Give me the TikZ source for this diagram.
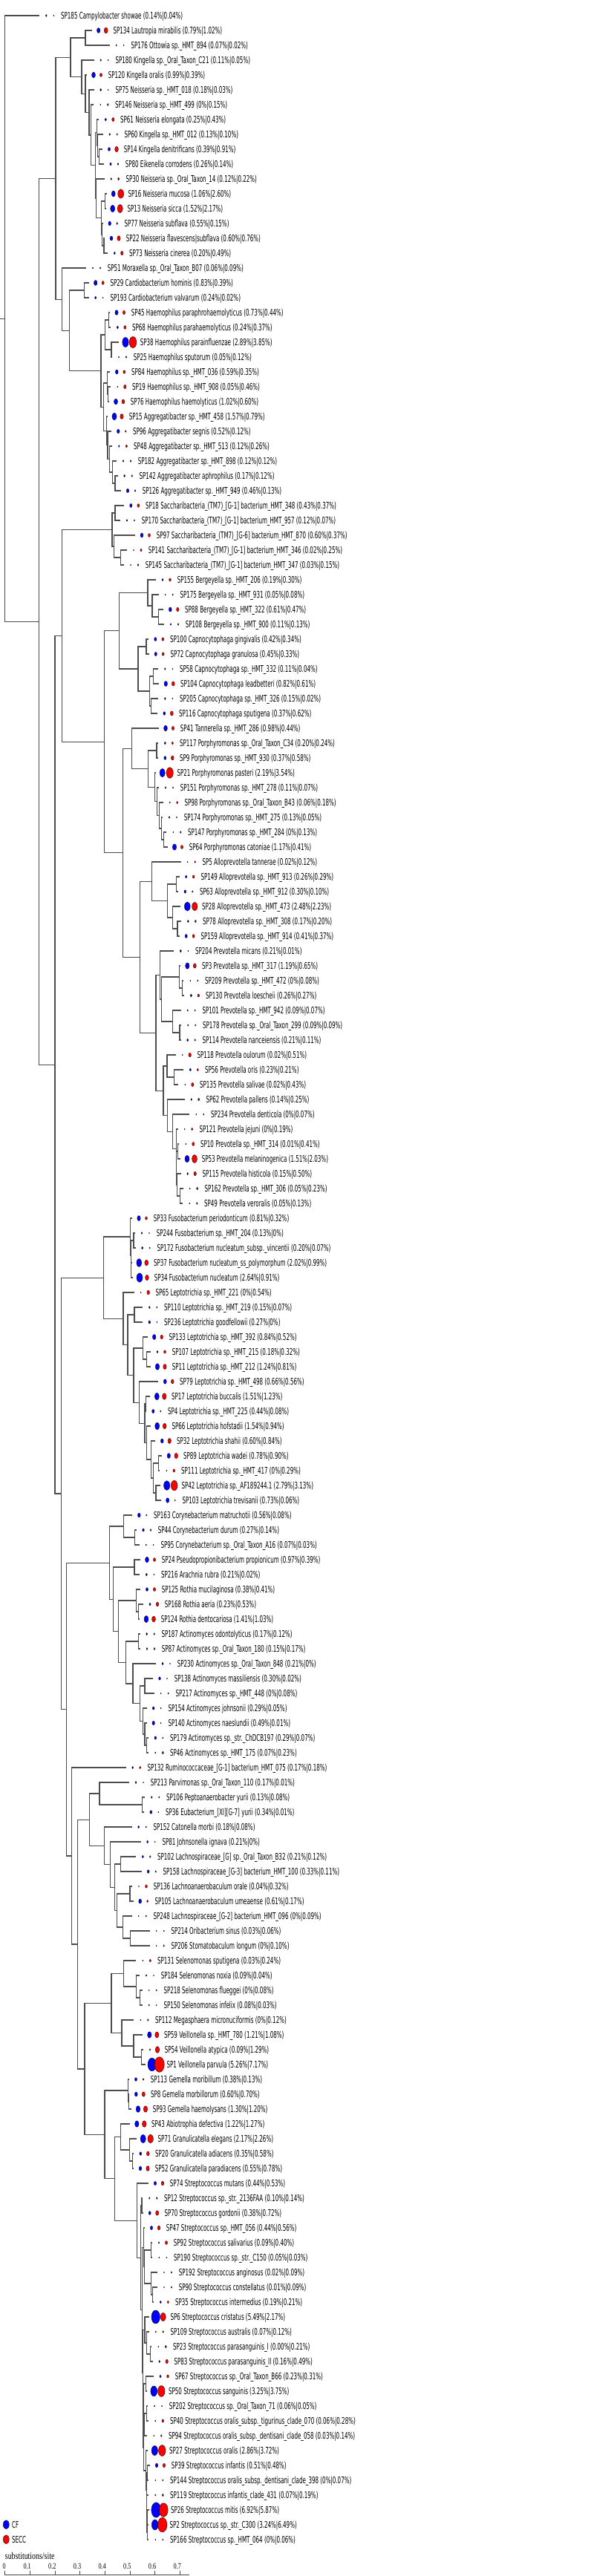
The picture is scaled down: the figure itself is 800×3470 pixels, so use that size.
\documentclass[tikz,border=0pt]{standalone}
\usepackage{fontspec}
\newfontfamily\lblfont{DejaVu Sans}[FakeStretch=0.58]
\newfontfamily\axisfont{Liberation Serif}[FakeStretch=0.75]
\definecolor{cfblue}{RGB}{0,0,255}
\definecolor{seccred}{RGB}{255,0,0}
\newcommand\setY[2]{\expandafter\xdef\csname ny@#1\endcsname{#2}}
\newcommand\getY[1]{\csname ny@#1\endcsname}
\tikzset{
  br/.style={draw=black!70, line width=1.2pt, line cap=rect},
  dotb/.style={fill=cfblue, draw=black, line width=0.35pt},
  dotr/.style={fill=seccred, draw=black, line width=0.35pt},
  lbl/.style={font=\lblfont\fontsize{12.3}{14}\selectfont, inner sep=0pt, anchor=base west},
  axlbl/.style={font=\axisfont\fontsize{11}{13}\selectfont, inner sep=0pt, anchor=base},
}
\newcommand\leaf[6]{%
  \pgfmathsetmacro\ly{21+20*#2}%
  \setY{#1}{\ly}%
  \coordinate (#1) at ({#3-9.5},-\ly);%
  \pgfmathsetmacro\rb{3.85*sqrt(max(#5,0.04))}%
  \pgfmathsetmacro\rr{3.85*sqrt(max(#6,0.04))}%
  \pgfmathsetmacro\rbx{0.64*\rb}%
  \pgfmathsetmacro\rrx{0.64*\rr}%
  \draw[dotb] (#3,-\ly) ellipse [x radius=\rbx, y radius=\rb];%
  \draw[dotr] ({#3+10},-\ly) ellipse [x radius=\rrx, y radius=\rr];%
  \node[lbl] (#1t) at ({#3+19.6},{-\ly-4.6}) {#4 (#5\%|#6\%)};%
}
\newcommand\inode[5]{%
  \edef\tya{\getY{#3}}\edef\tyb{\getY{#4}}%
  \pgfmathsetmacro\ny{(\tya+\tyb)/2}%
  \setY{#1}{\ny}%
  \coordinate (#1) at (#2,-\ny);%
  \draw[br] (#1 |- #3) -- (#1 |- #4);%
  \foreach \ch in {#5}{\draw[br] (#1 |- \ch) -- (\ch);}%
}
\begin{document}
\begin{tikzpicture}[x=1pt,y=1pt]
\fill[white] (0,0) rectangle (800,-3470);
\useasboundingbox (0,0) rectangle (800,-3470);
% ---------------- leaves ----------------
\leaf{s185}{0}{62.3}{SP185 Campylobacter showae}{0.14}{0.04}
\leaf{s134}{1}{132.7}{SP134 Lautropia mirabilis}{0.79}{1.02}
\leaf{s176}{2}{156.7}{SP176 Ottowia sp.\_HMT\_894}{0.07}{0.02}
\leaf{s180}{3}{135.7}{SP180 Kingella sp.\_Oral\_Taxon\_C21}{0.11}{0.05}
\leaf{s120}{4}{126}{SP120 Kingella oralis}{0.99}{0.39}
\leaf{s75}{5}{135.7}{SP75 Neisseria sp.\_HMT\_018}{0.18}{0.03}
\leaf{s146}{6}{135.3}{SP146 Neisseria sp.\_HMT\_499}{0}{0.15}
\leaf{s61}{7}{142.3}{SP61 Neisseria elongata}{0.25}{0.43}
\leaf{s60}{8}{147.7}{SP60 Kingella sp.\_HMT\_012}{0.13}{0.10}
\leaf{s14}{9}{147}{SP14 Kingella denitrificans}{0.39}{0.91}
\leaf{s80}{10}{149}{SP80 Eikenella corrodens}{0.26}{0.14}
\leaf{s30}{11}{149.7}{SP30 Neisseria sp.\_Oral\_Taxon\_14}{0.12}{0.22}
\leaf{s16}{12}{152.7}{SP16 Neisseria mucosa}{1.06}{2.60}
\leaf{s13}{13}{151.7}{SP13 Neisseria sicca}{1.52}{2.17}
\leaf{s77}{14}{147.7}{SP77 Neisseria subflava}{0.55}{0.15}
\leaf{s22}{15}{150}{SP22 Neisseria flavescens|subflava}{0.60}{0.76}
\leaf{s73}{16}{154.3}{SP73 Neisseria cinerea}{0.20}{0.49}
\leaf{s51}{17}{125}{SP51 Moraxella sp.\_Oral\_Taxon\_B07}{0.06}{0.09}
\leaf{s29}{18}{128.7}{SP29 Cardiobacterium hominis}{0.83}{0.39}
\leaf{s193}{19}{128.7}{SP193 Cardiobacterium valvarum}{0.24}{0.02}
\leaf{s45}{20}{157}{SP45 Haemophilus paraphrohaemolyticus}{0.73}{0.44}
\leaf{s68}{21}{158.3}{SP68 Haemophilus parahaemolyticus}{0.24}{0.37}
\leaf{s38}{22}{169}{SP38 Haemophilus parainfluenzae}{2.89}{3.85}
\leaf{s25}{23}{160}{SP25 Haemophilus sputorum}{0.05}{0.12}
\leaf{s84}{24}{157.3}{SP84 Haemophilus sp.\_HMT\_036}{0.59}{0.35}
\leaf{s19}{25}{158.3}{SP19 Haemophilus sp.\_HMT\_908}{0.05}{0.46}
\leaf{s76}{26}{156}{SP76 Haemophilus haemolyticus}{1.02}{0.60}
\leaf{s15}{27}{154}{SP15 Aggregatibacter sp.\_HMT\_458}{1.57}{0.79}
\leaf{s96}{28}{159.3}{SP96 Aggregatibacter segnis}{0.52}{0.12}
\leaf{s48}{29}{160.3}{SP48 Aggregatibacter sp.\_HMT\_513}{0.12}{0.26}
\leaf{s182}{30}{166}{SP182 Aggregatibacter sp.\_HMT\_898}{0.12}{0.12}
\leaf{s142}{31}{167.7}{SP142 Aggregatibacter aphrophilus}{0.17}{0.12}
\leaf{s126}{32}{172}{SP126 Aggregatibacter sp.\_HMT\_949}{0.46}{0.13}
\leaf{s18}{33}{176.3}{SP18 Saccharibacteria\_(TM7)\_[G-1] bacterium\_HMT\_348}{0.43}{0.37}
\leaf{s170}{34}{171}{SP170 Saccharibacteria\_(TM7)\_[G-1] bacterium\_HMT\_957}{0.12}{0.07}
\leaf{s97}{35}{191}{SP97 Saccharibacteria\_(TM7)\_[G-6] bacterium\_HMT\_870}{0.60}{0.37}
\leaf{s141}{36}{180}{SP141 Saccharibacteria\_(TM7)\_[G-1] bacterium\_HMT\_346}{0.02}{0.25}
\leaf{s145}{37}{176}{SP145 Saccharibacteria\_(TM7)\_[G-1] bacterium\_HMT\_347}{0.03}{0.15}
\leaf{s155}{38}{219}{SP155 Bergeyella sp.\_HMT\_206}{0.19}{0.30}
\leaf{s175}{39}{222.7}{SP175 Bergeyella sp.\_HMT\_931}{0.05}{0.08}
\leaf{s88}{40}{229.3}{SP88 Bergeyella sp.\_HMT\_322}{0.61}{0.47}
\leaf{s108}{41}{230}{SP108 Bergeyella sp.\_HMT\_900}{0.11}{0.13}
\leaf{s100}{42}{209.3}{SP100 Capnocytophaga gingivalis}{0.42}{0.34}
\leaf{s72}{43}{209.7}{SP72 Capnocytophaga granulosa}{0.45}{0.33}
\leaf{s58}{44}{222.3}{SP58 Capnocytophaga sp.\_HMT\_332}{0.11}{0.04}
\leaf{s104}{45}{223.3}{SP104 Capnocytophaga leadbetteri}{0.82}{0.61}
\leaf{s205}{46}{222.3}{SP205 Capnocytophaga sp.\_HMT\_326}{0.15}{0.02}
\leaf{s116}{47}{221.3}{SP116 Capnocytophaga sputigena}{0.37}{0.62}
\leaf{s41}{48}{223}{SP41 Tannerella sp.\_HMT\_286}{0.98}{0.44}
\leaf{s117}{49}{222.3}{SP117 Porphyromonas sp.\_Oral\_Taxon\_C34}{0.20}{0.24}
\leaf{s9}{50}{222.3}{SP9 Porphyromonas sp.\_HMT\_930}{0.37}{0.58}
\leaf{s21}{51}{218.7}{SP21 Porphyromonas pasteri}{2.19}{3.54}
\leaf{s151}{52}{223}{SP151 Porphyromonas sp.\_HMT\_278}{0.11}{0.07}
\leaf{s98}{53}{228.7}{SP98 Porphyromonas sp.\_Oral\_Taxon\_B43}{0.06}{0.18}
\leaf{s174}{54}{228}{SP174 Porphyromonas sp.\_HMT\_275}{0.13}{0.05}
\leaf{s147}{55}{233.3}{SP147 Porphyromonas sp.\_HMT\_284}{0}{0.13}
\leaf{s64}{56}{235}{SP64 Porphyromonas catoniae}{1.17}{0.41}
\leaf{s5}{57}{252.7}{SP5 Alloprevotella tannerae}{0.02}{0.12}
\leaf{s149}{58}{250.7}{SP149 Alloprevotella sp.\_HMT\_913}{0.26}{0.29}
\leaf{s63}{59}{249.3}{SP63 Alloprevotella sp.\_HMT\_912}{0.30}{0.10}
\leaf{s28}{60}{252.3}{SP28 Alloprevotella sp.\_HMT\_473}{2.48}{2.23}
\leaf{s78}{61}{253.3}{SP78 Alloprevotella sp.\_HMT\_308}{0.17}{0.20}
\leaf{s159}{62}{250.7}{SP159 Alloprevotella sp.\_HMT\_914}{0.41}{0.37}
\leaf{s204}{63}{243.3}{SP204 Prevotella micans}{0.21}{0.01}
\leaf{s3}{64}{252.3}{SP3 Prevotella sp.\_HMT\_317}{1.19}{0.65}
\leaf{s209}{65}{256.3}{SP209 Prevotella sp.\_HMT\_472}{0}{0.08}
\leaf{s130}{66}{257.3}{SP130 Prevotella loescheii}{0.26}{0.27}
\leaf{s101}{67}{252.7}{SP101 Prevotella sp.\_HMT\_942}{0.09}{0.07}
\leaf{s178}{68}{253.3}{SP178 Prevotella sp.\_Oral\_Taxon\_299}{0.09}{0.09}
\leaf{s114}{69}{252.7}{SP114 Prevotella nanceiensis}{0.21}{0.11}
\leaf{s118}{70}{245.7}{SP118 Prevotella oulorum}{0.02}{0.51}
\leaf{s56}{71}{256.3}{SP56 Prevotella oris}{0.23}{0.21}
\leaf{s135}{72}{249.3}{SP135 Prevotella salivae}{0.02}{0.43}
\leaf{s62}{73}{257.7}{SP62 Prevotella pallens}{0.14}{0.25}
\leaf{s234}{74}{264.3}{SP234 Prevotella denticola}{0}{0.07}
\leaf{s121}{75}{248.7}{SP121 Prevotella jejuni}{0}{0.19}
\leaf{s10}{76}{250.3}{SP10 Prevotella sp.\_HMT\_314}{0.01}{0.41}
\leaf{s53}{77}{252}{SP53 Prevotella melaninogenica}{1.51}{2.03}
\leaf{s115}{78}{252.7}{SP115 Prevotella histicola}{0.15}{0.50}
\leaf{s162}{79}{255.7}{SP162 Prevotella sp.\_HMT\_306}{0.05}{0.23}
\leaf{s49}{80}{255.3}{SP49 Prevotella veroralis}{0.05}{0.13}
\leaf{s33}{81}{187}{SP33 Fusobacterium periodonticum}{0.81}{0.32}
\leaf{s244}{82}{191}{SP244 Fusobacterium sp.\_HMT\_204}{0.13}{0}
\leaf{s172}{83}{191.7}{SP172 Fusobacterium nucleatum\_subsp.\_vincentii}{0.20}{0.07}
\leaf{s37}{84}{187.3}{SP37 Fusobacterium nucleatum\_ss\_polymorphum}{2.02}{0.99}
\leaf{s34}{85}{188}{SP34 Fusobacterium nucleatum}{2.64}{0.91}
\leaf{s65}{86}{189.7}{SP65 Leptotrichia sp.\_HMT\_221}{0}{0.54}
\leaf{s110}{87}{201.3}{SP110 Leptotrichia sp.\_HMT\_219}{0.15}{0.07}
\leaf{s236}{88}{201.3}{SP236 Leptotrichia goodfellowii}{0.27}{0}
\leaf{s133}{89}{207.7}{SP133 Leptotrichia sp.\_HMT\_392}{0.84}{0.52}
\leaf{s107}{90}{212}{SP107 Leptotrichia sp.\_HMT\_215}{0.18}{0.32}
\leaf{s11}{91}{212}{SP11 Leptotrichia sp.\_HMT\_212}{1.24}{0.81}
\leaf{s79}{92}{222.3}{SP79 Leptotrichia sp.\_HMT\_498}{0.66}{0.56}
\leaf{s17}{93}{211.3}{SP17 Leptotrichia buccalis}{1.51}{1.23}
\leaf{s4}{94}{206.3}{SP4 Leptotrichia sp.\_HMT\_225}{0.44}{0.08}
\leaf{s66}{95}{211.7}{SP66 Leptotrichia hofstadii}{1.54}{0.94}
\leaf{s32}{96}{218.3}{SP32 Leptotrichia shahii}{0.60}{0.84}
\leaf{s89}{97}{227.3}{SP89 Leptotrichia wadei}{0.78}{0.90}
\leaf{s111}{98}{224.3}{SP111 Leptotrichia sp.\_HMT\_417}{0}{0.29}
\leaf{s42}{99}{224.7}{SP42 Leptotrichia sp.\_AF189244.1}{2.79}{3.13}
\leaf{s103}{100}{225.7}{SP103 Leptotrichia trevisanii}{0.73}{0.06}
\leaf{s163}{101}{187.3}{SP163 Corynebacterium matruchotii}{0.56}{0.08}
\leaf{s44}{102}{193}{SP44 Corynebacterium durum}{0.27}{0.14}
\leaf{s95}{103}{196.7}{SP95 Corynebacterium sp.\_Oral\_Taxon\_A16}{0.07}{0.03}
\leaf{s24}{104}{198}{SP24 Pseudopropionibacterium propionicum}{0.97}{0.39}
\leaf{s216}{105}{197.3}{SP216 Arachnia rubra}{0.21}{0.02}
\leaf{s125}{106}{198}{SP125 Rothia mucilaginosa}{0.38}{0.41}
\leaf{s168}{107}{202}{SP168 Rothia aeria}{0.23}{0.53}
\leaf{s124}{108}{197}{SP124 Rothia dentocariosa}{1.41}{1.03}
\leaf{s187}{109}{197.7}{SP187 Actinomyces odontolyticus}{0.17}{0.12}
\leaf{s87}{110}{198}{SP87 Actinomyces sp.\_Oral\_Taxon\_180}{0.15}{0.17}
\leaf{s230}{111}{219}{SP230 Actinomyces sp.\_Oral\_Taxon\_848}{0.21}{0}
\leaf{s138}{112}{215}{SP138 Actinomyces massiliensis}{0.30}{0.02}
\leaf{s217}{113}{216.7}{SP217 Actinomyces sp.\_HMT\_448}{0}{0.08}
\leaf{s154}{114}{206.7}{SP154 Actinomyces johnsonii}{0.29}{0.05}
\leaf{s140}{115}{206.7}{SP140 Actinomyces naeslundii}{0.49}{0.01}
\leaf{s179}{116}{209.3}{SP179 Actinomyces sp.\_str.\_ChDCB197}{0.29}{0.07}
\leaf{s46}{117}{209.3}{SP46 Actinomyces sp.\_HMT\_175}{0.07}{0.23}
\leaf{s132}{118}{178.7}{SP132 Ruminococcaceae\_[G-1] bacterium\_HMT\_075}{0.17}{0.18}
\leaf{s213}{119}{183}{SP213 Parvimonas sp.\_Oral\_Taxon\_110}{0.17}{0.01}
\leaf{s106}{120}{204.3}{SP106 Peptoanaerobacter yurii}{0.13}{0.08}
\leaf{s36}{121}{203.3}{SP36 Eubacterium\_[XI][G-7] yurii}{0.34}{0.01}
\leaf{s152}{122}{186.7}{SP152 Catonella morbi}{0.18}{0.08}
\leaf{s81}{123}{198.7}{SP81 Johnsonella ignava}{0.21}{0}
\leaf{s102}{124}{192.3}{SP102 Lachnospiraceae\_[G] sp.\_Oral\_Taxon\_B32}{0.21}{0.12}
\leaf{s158}{125}{199.7}{SP158 Lachnospiraceae\_[G-3] bacterium\_HMT\_100}{0.33}{0.11}
\leaf{s136}{126}{187}{SP136 Lachnoanaerobaculum orale}{0.04}{0.32}
\leaf{s105}{127}{188.7}{SP105 Lachnoanaerobaculum umeaense}{0.61}{0.17}
\leaf{s248}{128}{186.7}{SP248 Lachnospiraceae\_[G-2] bacterium\_HMT\_096}{0}{0.09}
\leaf{s214}{129}{210.7}{SP214 Oribacterium sinus}{0.03}{0.06}
\leaf{s206}{130}{210.7}{SP206 Stomatobaculum longum}{0}{0.10}
\leaf{s131}{131}{192.3}{SP131 Selenomonas sputigena}{0.03}{0.24}
\leaf{s184}{132}{197}{SP184 Selenomonas noxia}{0.09}{0.04}
\leaf{s218}{133}{200.7}{SP218 Selenomonas flueggei}{0}{0.08}
\leaf{s150}{134}{200.7}{SP150 Selenomonas infelix}{0.08}{0.03}
\leaf{s112}{135}{189.3}{SP112 Megasphaera micronuciformis}{0}{0.12}
\leaf{s59}{136}{201.3}{SP59 Veillonella sp.\_HMT\_780}{1.21}{1.08}
\leaf{s54}{137}{202}{SP54 Veillonella atypica}{0.09}{1.29}
\leaf{s1}{138}{204.7}{SP1 Veillonella parvula}{5.26}{7.17}
\leaf{s113}{139}{183}{SP113 Gemella moribillum}{0.38}{0.13}
\leaf{s8}{140}{183.3}{SP8 Gemella morbillorum}{0.60}{0.70}
\leaf{s93}{141}{186}{SP93 Gemella haemolysans}{1.30}{1.20}
\leaf{s43}{142}{184.3}{SP43 Abiotrophia defectiva}{1.22}{1.27}
\leaf{s71}{143}{192.7}{SP71 Granulicatella elegans}{2.17}{2.26}
\leaf{s20}{144}{189.3}{SP20 Granulicatella adiacens}{0.35}{0.58}
\leaf{s52}{145}{189}{SP52 Granulicatella paradiacens}{0.55}{0.78}
\leaf{s74}{146}{209}{SP74 Streptococcus mutans}{0.44}{0.53}
\leaf{s12}{147}{201.3}{SP12 Streptococcus sp.\_str.\_2136FAA}{0.10}{0.14}
\leaf{s70}{148}{201.7}{SP70 Streptococcus gordonii}{0.38}{0.72}
\leaf{s47}{149}{204}{SP47 Streptococcus sp.\_HMT\_056}{0.44}{0.56}
\leaf{s92}{150}{214}{SP92 Streptococcus salivarius}{0.09}{0.40}
\leaf{s190}{151}{214.3}{SP190 Streptococcus sp.\_str.\_C150}{0.05}{0.03}
\leaf{s192}{152}{221}{SP192 Streptococcus anginosus}{0.02}{0.09}
\leaf{s90}{153}{221}{SP90 Streptococcus constellatus}{0.01}{0.09}
\leaf{s35}{154}{216.3}{SP35 Streptococcus intermedius}{0.19}{0.21}
\leaf{s6}{155}{209.7}{SP6 Streptococcus cristatus}{5.49}{2.17}
\leaf{s109}{156}{209.7}{SP109 Streptococcus australis}{0.07}{0.12}
\leaf{s23}{157}{213.3}{SP23 Streptococcus parasanguinis\_I}{0.00}{0.21}
\leaf{s83}{158}{214.7}{SP83 Streptococcus parasanguinis\_II}{0.16}{0.49}
\leaf{s67}{159}{216}{SP67 Streptococcus sp.\_Oral\_Taxon\_B66}{0.23}{0.31}
\leaf{s50}{160}{207.3}{SP50 Streptococcus sanguinis}{3.25}{3.75}
\leaf{s202}{161}{208}{SP202 Streptococcus sp.\_Oral\_Taxon\_71}{0.06}{0.05}
\leaf{s40}{162}{209.3}{SP40 Streptococcus oralis\_subsp.\_tigurinus\_clade\_070}{0.06}{0.28}
\leaf{s94}{163}{207.3}{SP94 Streptococcus oralis\_subsp.\_dentisani\_clade\_058}{0.03}{0.14}
\leaf{s27}{164}{208.3}{SP27 Streptococcus oralis}{2.86}{3.72}
\leaf{s39}{165}{211}{SP39 Streptococcus infantis}{0.51}{0.48}
\leaf{s144}{166}{209.3}{SP144 Streptococcus oralis\_subsp.\_dentisani\_clade\_398}{0}{0.07}
\leaf{s119}{167}{209.3}{SP119 Streptococcus infantis\_clade\_431}{0.07}{0.19}
\leaf{s26}{168}{210.3}{SP26 Streptococcus mitis}{6.92}{5.87}
\leaf{s2}{169}{208.7}{SP2 Streptococcus sp.\_str.\_C300}{3.24}{6.49}
\leaf{s166}{170}{209.3}{SP166 Streptococcus sp.\_HMT\_064}{0}{0.06}
% ---------------- internal nodes ----------------
\inode{n12}{115}{s134}{s176}{s134,s176}
\inode{nG3}{133.3}{s14}{s80}{s14,s80}
\inode{nG2}{131.7}{s60}{nG3}{s60,nG3}
\inode{nG}{130.7}{s61}{nG2}{s61,nG2}
\inode{nJ}{141.7}{s16}{s13}{s16,s13}
\inode{nK}{140}{s22}{s73}{s22,s73}
\inode{nL}{137.7}{s77}{nK}{s77,nK}
\inode{nI}{136.7}{nJ}{nL}{nJ,nL}
\inode{nH}{129.3}{s30}{nI}{s30,nI}
\inode{nF}{128.3}{nG}{nH}{nG,nH}
\inode{nE}{122.3}{s146}{nF}{s146,nF}
\inode{nD}{120}{s75}{nE}{s75,nE}
\inode{nC}{115}{s120}{nD}{s120,nD}
\inode{nB}{110}{s180}{nC}{s180,nC}
\inode{nC1}{95}{n12}{nB}{n12,nB}
\inode{nCard}{113.3}{s29}{s193}{s29,s193}
\inode{nP1}{146.7}{s45}{s68}{s45,s68}
\inode{nP2}{150}{s38}{s25}{s38,s25}
\inode{nP}{141.7}{nP1}{nP2}{nP1,nP2}
\inode{nR2}{145.5}{s19}{s76}{s19,s76}
\inode{nR}{144.5}{s84}{nR2}{s84,nR2}
\inode{nS5}{155}{s142}{s126}{s142,s126}
\inode{nS4}{151.7}{s182}{nS5}{s182,nS5}
\inode{nS3}{147.7}{s48}{nS4}{s48,nS4}
\inode{nS2}{145}{s96}{nS3}{s96,nS3}
\inode{nS}{143.3}{s15}{nS2}{s15,nS2}
\inode{nQ}{139.3}{nR}{nS}{nR,nS}
\inode{nHaem}{136}{nP}{nQ}{nP,nQ}
\inode{nM}{93.3}{nCard}{nHaem}{nCard,nHaem}
\inode{nC2}{83.3}{s51}{nM}{s51,nM}
\inode{nB1}{75}{nC1}{nC2}{nC1,nC2}
\inode{nT7a}{155}{s18}{s170}{s18,s170}
\inode{nT7c}{162.3}{s141}{s145}{s141,s145}
\inode{nT7b}{153.3}{s97}{nT7c}{s97,nT7c}
\inode{nT7}{151}{nT7a}{nT7b}{nT7a,nT7b}
\inode{nBerg3}{213.3}{s88}{s108}{s88,s108}
\inode{nBerg2}{205}{s175}{nBerg3}{s175,nBerg3}
\inode{nBerg}{199}{s155}{nBerg2}{s155,nBerg2}
\inode{nCapA}{197}{s100}{s72}{s100,s72}
\inode{nCapB1}{206.7}{s58}{s104}{s58,s104}
\inode{nCapB2}{203.3}{s205}{s116}{s205,s116}
\inode{nCapB}{201.7}{nCapB1}{nCapB2}{nCapB1,nCapB2}
\inode{nCapno}{186}{nCapA}{nCapB}{nCapA,nCapB}
\inode{nFlavo}{160.7}{nBerg}{nCapno}{nBerg,nCapno}
\inode{nPor3}{211}{s117}{s9}{s117,s9}
\inode{nPor8}{220.7}{s147}{s64}{s147,s64}
\inode{nPor7}{217.3}{s174}{nPor8}{s174,nPor8}
\inode{nPor6}{214.3}{s98}{nPor7}{s98,nPor7}
\inode{nPor5}{211.5}{s151}{nPor6}{s151,nPor6}
\inode{nPor4}{208.3}{s21}{nPor5}{s21,nPor5}
\inode{nPor2}{199.3}{nPor3}{nPor4}{nPor3,nPor4}
\inode{nPorph}{177.7}{s41}{nPor2}{s41,nPor2}
\inode{nAllo3}{237.3}{s149}{s63}{s149,s63}
\inode{nAllo5}{239}{s78}{s159}{s78,s159}
\inode{nAllo4}{232.3}{s28}{nAllo5}{s28,nAllo5}
\inode{nAllo2}{225.7}{nAllo3}{nAllo4}{nAllo3,nAllo4}
\inode{nAllo}{204.3}{s5}{nAllo2}{s5,nAllo2}
\inode{nPC3b}{245.5}{s209}{s130}{s209,s130}
\inode{nPC3}{241.3}{s3}{nPC3b}{s3,nPC3b}
\inode{nPC5}{242}{s178}{s114}{s178,s114}
\inode{nPC4}{232.7}{s101}{nPC5}{s101,nPC5}
\inode{nPC2}{217.3}{nPC3}{nPC4}{nPC3,nPC4}
\inode{nPC}{215.7}{s204}{nPC2}{s204,nPC2}
\inode{nPD1}{234.3}{s56}{s135}{s56,s135}
\inode{nPD2}{225}{s118}{nPD1}{s118,nPD1}
\inode{nPH1}{242.7}{s162}{s49}{s162,s49}
\inode{nPH2}{238.3}{s115}{nPH1}{s115,nPH1}
\inode{nPH3}{239.3}{s10}{s53}{s10,s53}
\inode{nPH4}{237.7}{nPH3}{nPH2}{nPH3,nPH2}
\inode{nPG}{237.3}{s121}{nPH4}{s121,nPH4}
\inode{nPF}{232.7}{s234}{nPG}{s234,nPG}
\inode{nPE}{225.7}{s62}{nPF}{s62,nPF}
\inode{nPD}{220}{nPD2}{nPE}{nPD2,nPE}
\inode{nPB}{210}{nPC}{nPD}{nPC,nPD}
\inode{nPrev}{188.3}{nAllo}{nPB}{nAllo,nPB}
\inode{nBact}{165.7}{nPorph}{nPrev}{nPorph,nPrev}
\inode{nU}{140.7}{nFlavo}{nBact}{nFlavo,nBact}
\inode{nT1}{83.3}{nT7}{nU}{nT7,nU}
\inode{nFusA}{180}{s244}{s172}{s244,s172}
\inode{nFusB}{176.7}{s37}{s34}{s37,s34}
\inode{nFusC}{176.3}{nFusA}{nFusB}{nFusA,nFusB}
\inode{nFus1}{175.7}{s33}{nFusC}{s33,nFusC}
\inode{nLB}{181}{s110}{s236}{s110,s236}
\inode{nLD2}{197.7}{s107}{s11}{s107,s11}
\inode{nLD}{192.7}{s133}{nLD2}{s133,nLD2}
\inode{nLF1}{213.3}{s89}{s111}{s89,s111}
\inode{nLF2}{210}{s42}{s103}{s42,s103}
\inode{nLF3}{206.7}{nLF1}{nLF2}{nLF1,nLF2}
\inode{nLF4}{203.3}{s32}{nLF3}{s32,nLF3}
\inode{nLF5}{197.7}{s66}{nLF4}{s66,nLF4}
\inode{nLF7}{196.3}{s17}{s4}{s17,s4}
\inode{nLF6}{195}{nLF7}{nLF5}{nLF7,nLF5}
\inode{nLE}{187.7}{s79}{nLF6}{s79,nLF6}
\inode{nLC}{180}{nLD}{nLE}{nLD,nLE}
\inode{nLA}{172}{nLB}{nLC}{nLB,nLC}
\inode{nLept}{166}{s65}{nLA}{s65,nLA}
\inode{nFuso}{139.3}{nFus1}{nLept}{nFus1,nLept}
\inode{nCor2}{181.7}{s44}{s95}{s44,s95}
\inode{nCoryne}{166.7}{s163}{nCor2}{s163,nCor2}
\inode{nProp}{181}{s24}{s216}{s24,s216}
\inode{nRoth2}{186.7}{s168}{s124}{s168,s124}
\inode{nRoth}{183.3}{s125}{nRoth2}{s125,nRoth2}
\inode{nActA}{186.7}{s187}{s87}{s187,s87}
\inode{nActD}{195}{s138}{s217}{s138,s217}
\inode{nActE1}{197.7}{s179}{s46}{s179,s46}
\inode{nActE2}{195}{s140}{nActE1}{s140,nActE1}
\inode{nActE}{192.7}{s154}{nActE2}{s154,nActE2}
\inode{nActC}{188.3}{nActD}{nActE}{nActD,nActE}
\inode{nActB}{179}{s230}{nActC}{s230,nActC}
\inode{nAct4}{169.3}{nActA}{nActB}{nActA,nActB}
\inode{nAct3}{159.3}{nRoth}{nAct4}{nRoth,nAct4}
\inode{nAct2}{152.3}{nProp}{nAct3}{nProp,nAct3}
\inode{nActino}{147.3}{nCoryne}{nAct2}{nCoryne,nAct2}
\inode{nPept}{191.7}{s106}{s36}{s106,s36}
\inode{nParv}{134}{s213}{nPept}{s213,nPept}
\inode{nLach4}{162.3}{s102}{s158}{s102,s158}
\inode{nLach6}{175}{s136}{s105}{s136,s105}
\inode{nLach8}{175.7}{s214}{s206}{s214,s206}
\inode{nLach7}{165.7}{s248}{nLach8}{s248,nLach8}
\inode{nLach5}{157.7}{nLach6}{nLach7}{nLach6,nLach7}
\inode{nLach3}{154.3}{nLach4}{nLach5}{nLach4,nLach5}
\inode{nLach2}{148.3}{s81}{nLach3}{s81,nLach3}
\inode{nLach}{140.7}{s152}{nLach2}{s152,nLach2}
\inode{nClos}{120.7}{nParv}{nLach}{nParv,nLach}
\inode{nSel3}{188.3}{s218}{s150}{s218,s150}
\inode{nSel2}{183.3}{s184}{nSel3}{s184,nSel3}
\inode{nSel}{166.7}{s131}{nSel2}{s131,nSel2}
\inode{nVeil3}{190.7}{s54}{s1}{s54,s1}
\inode{nVeil2}{180}{s59}{nVeil3}{s59,nVeil3}
\inode{nVeil}{164}{s112}{nVeil2}{s112,nVeil2}
\inode{nNeg}{150}{nSel}{nVeil}{nSel,nVeil}
\inode{nGem2}{173.3}{s8}{s93}{s8,s93}
\inode{nGem}{172.3}{s113}{nGem2}{s113,nGem2}
\inode{nGran3}{178.5}{s20}{s52}{s20,s52}
\inode{nGran2}{174.3}{s71}{nGran3}{s71,nGran3}
\inode{nGran}{162.7}{s43}{nGran2}{s43,nGran2}
\inode{nSt3}{191}{s12}{s70}{s12,s70}
\inode{nSt5c}{203.3}{s92}{s190}{s92,s190}
\inode{nStG1}{205.7}{s90}{s35}{s90,s35}
\inode{nStG}{203.3}{s192}{nStG1}{s192,nStG1}
\inode{nSt5b}{194.3}{nSt5c}{nStG}{nSt5c,nStG}
\inode{nSt5}{193.3}{s47}{nSt5b}{s47,nSt5b}
\inode{nStM1}{202.3}{s23}{s83}{s23,s83}
\inode{nStM2}{197.7}{s109}{nStM1}{s109,nStM1}
\inode{nStM3}{195}{s6}{nStM2}{s6,nStM2}
\inode{nStN1}{196.7}{s67}{s50}{s67,s50}
\inode{nStN2}{197.7}{s202}{s40}{s202,s40}
\inode{nStN3}{194.3}{nStN2}{s94}{nStN2,s94}
\inode{nStO6}{198.3}{s2}{s166}{s2,s166}
\inode{nStO5}{198}{s26}{nStO6}{s26,nStO6}
\inode{nStO4}{197.7}{s119}{nStO5}{s119,nStO5}
\inode{nStO3}{198.7}{s39}{s144}{s39,s144}
\inode{nStO2}{197.3}{nStO3}{nStO4}{nStO3,nStO4}
\inode{nStO}{196.7}{s27}{nStO2}{s27,nStO2}
\inode{nStP}{193.3}{nStN3}{nStO}{nStN3,nStO}
\inode{nStQ}{193}{nStN1}{nStP}{nStN1,nStP}
\inode{nSt6}{192.3}{nStM3}{nStQ}{nStM3,nStQ}
\inode{nSt4}{191.7}{nSt5}{nSt6}{nSt5,nSt6}
\inode{nSt2}{189.3}{nSt3}{nSt4}{nSt3,nSt4}
\inode{nStrep}{184.3}{s74}{nSt2}{s74,nSt2}
\inode{nLact}{154.3}{nGran}{nStrep}{nGran,nStrep}
\inode{nBac}{141}{nGem}{nLact}{nGem,nLact}
\inode{nY}{114}{nNeg}{nBac}{nNeg,nBac}
\inode{nX}{104.3}{nClos}{nY}{nClos,nY}
\inode{nW}{96.7}{s132}{nX}{s132,nX}
\inode{nV}{89.3}{nActino}{nW}{nActino,nW}
\inode{nT2}{82.7}{nFuso}{nV}{nFuso,nV}
\inode{nB2}{74}{nT1}{nT2}{nT1,nT2}
\inode{nA}{52.7}{nB1}{nB2}{nB1,nB2}
\inode{nRoot}{6.7}{s185}{nA}{s185,nA}
\coordinate (orig) at (0,0);
\draw[br] (nRoot) -- (nRoot -| orig);
% ---------------- legend ----------------
\draw[dotb] (8.3,-3400.7) ellipse [x radius=4, y radius=6];
\node[lbl] (lgcf) at (16,-3405.3) {CF};
\draw[dotr] (8.3,-3420.7) ellipse [x radius=4, y radius=6];
\node[lbl] (lgsecc) at (16,-3425.3) {SECC};
% ---------------- scale bar ----------------
\node[font=\axisfont\fontsize{13.2}{15}\selectfont, inner sep=0pt, anchor=base west] (sbtitle) at (6.7,-3447.3) {substitutions/site};
\coordinate (ax0) at (6.7,-3468.3);
\coordinate (ax1) at (254,-3468.3);
\draw[br, line width=1pt] (ax0) -- (ax1);
\foreach \k in {0,...,7}{
  \pgfmathsetmacro\tx{6.7+33.7*\k}
  \draw[br, line width=1pt] (\tx,-3468.3) -- (\tx,-3463.5);
}
\node[axlbl] (t0) at (5.7,-3460.7) {0};
\node[axlbl] (t1) at (36.7,-3460.7) {0.1};
\node[axlbl] (t2) at (70.3,-3460.7) {0.2};
\node[axlbl] (t3) at (104,-3460.7) {0.3};
\node[axlbl] (t4) at (137.7,-3460.7) {0.4};
\node[axlbl] (t5) at (171.4,-3460.7) {0.5};
\node[axlbl] (t6) at (205.1,-3460.7) {0.6};
\node[axlbl] (t7) at (238.8,-3460.7) {0.7};
\end{tikzpicture}
\end{document}
